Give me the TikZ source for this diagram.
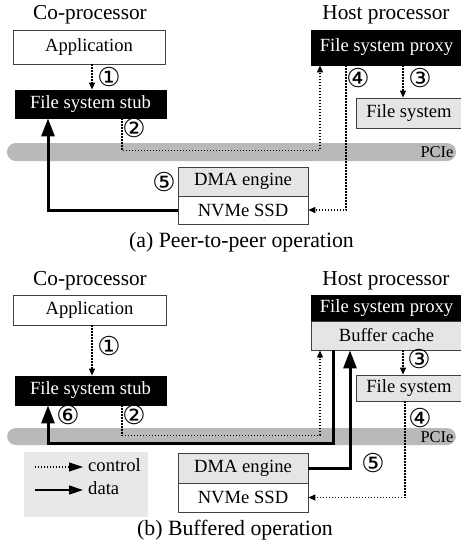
\documentclass[tikz,border=0pt]{standalone}
\usepackage{fontspec}
\setmainfont{Liberation Serif}
\newfontfamily\circfont{DejaVu Sans}
\usetikzlibrary{arrows.meta}

\tikzset{
  base/.style={inner sep=0pt, font=\fontsize{18.6}{20}\selectfont},
  wbox/.style={base, draw=black!75, line width=0.8pt, fill=white},
  gbox/.style={base, draw=black!75, line width=0.8pt, fill=gray!20},
  bbox/.style={base, draw=black, line width=0.8pt, fill=black, text=white},
  head/.style={font=\fontsize{21.3}{23}\selectfont},
  capt/.style={font=\fontsize{21.8}{24}\selectfont},
  pcie/.style={font=\fontsize{16.5}{18}\selectfont},
  num/.style={inner sep=0pt, font=\circfont\fontsize{26}{28}\selectfont},
  bus/.style={fill=gray!55, rounded corners=9pt},
  ctrl/.style={line width=1.1pt, dash pattern=on 1.1pt off 1.9pt, -{Triangle[length=7pt,width=6pt]}},
  data/.style={line width=3pt, -{Triangle[length=18pt,width=13pt]}},
}

\begin{document}
\begin{tikzpicture}[x=1pt, y=-1pt]
  \useasboundingbox (0,0) rectangle (461,550);

  % ---- (a) peer-to-peer ----
  \node[head] (coA) at (90,15) {Co-processor};
  \node[head] (hostA) at (386,15) {Host processor};

  \fill[bus] (7,143) rectangle (456,161);
  \node[pcie] (pcieA) at (437,152) {PCIe};

  \node[wbox, minimum width=152, minimum height=34] (appA) at (89,47) {Application};
  \node[bbox, minimum width=151, minimum height=28] (stubA) at (90.5,104) {File system stub};
  \node[bbox, minimum width=151, minimum height=35] (proxyA) at (386.5,47.5) {File system proxy};
  \node[gbox, minimum width=106, minimum height=30] (fsA) at (409,113) {File system};
  \node[gbox, minimum width=130, minimum height=29] (dmaA) at (243,181.5) {DMA engine};
  \node[wbox, minimum width=130, minimum height=28] (nvmeA) at (243,210) {NVMe SSD};

  % control and data paths
  \draw[ctrl] ([xshift=3]appA.south) -- ([xshift=3]appA.south |- stubA.north);
  \draw[ctrl] ([xshift=31.5]stubA.south) -- ++(0,32) -| ([xshift=-66.5]proxyA.south);
  \draw[ctrl] ([xshift=16.5]proxyA.south) -- ([xshift=16.5]proxyA.south |- fsA.north);
  \draw[ctrl] ([xshift=-40.5]proxyA.south) |- (nvmeA.east);
  \draw[data] (nvmeA.west) -| ([xshift=-42.5]stubA.south);

  \node[num] (n1A) at (109,77) {①};
  \node[num] (n2A) at (134,128) {②};
  \node[num] (n3A) at (420,78) {③};
  \node[num] (n4A) at (358,78) {④};
  \node[num] (n5A) at (164,182) {⑤};

  \node[capt] (captA) at (241.5,242) {(a) Peer-to-peer operation};

  % ---- (b) buffered ----
  \node[head] (coB) at (90,281) {Co-processor};
  \node[head] (hostB) at (386,281) {Host processor};

  \fill[bus] (7,428) rectangle (456,445);
  \node[pcie] (pcieB) at (437,437) {PCIe};

  \node[wbox, minimum width=153, minimum height=30] (appB) at (89.5,310) {Application};
  \node[bbox, minimum width=151, minimum height=29] (stubB) at (90.5,390.5) {File system stub};
  \node[bbox, minimum width=151, minimum height=26] (proxyB) at (386.5,308) {File system proxy};
  \node[gbox, minimum width=151, minimum height=29] (bufB) at (386.5,335.5) {Buffer cache};
  \node[gbox, minimum width=106, minimum height=26] (fsB) at (409,388) {File system};
  \node[gbox, minimum width=130, minimum height=30] (dmaB) at (243,468) {DMA engine};
  \node[wbox, minimum width=130, minimum height=29] (nvmeB) at (243,497.5) {NVMe SSD};

  % control and data paths
  \draw[ctrl] ([xshift=2.5]appB.south) -- ([xshift=2.5]appB.south |- stubB.north);
  \draw[ctrl] ([xshift=31.5]stubB.south) -- ++(0,30) -| ([xshift=-66.5]bufB.south);
  \draw[ctrl] ([xshift=16.5]bufB.south) -- ([xshift=16.5]bufB.south |- fsB.north);
  \draw[ctrl] ([xshift=-4]fsB.south) |- (nvmeB.east);
  \draw[data] ([xshift=-53.5]bufB.south) -- ++(0,93) -| ([xshift=-42.5]stubB.south);
  \draw[data] (dmaB.east) -| ([xshift=-36.5]bufB.south);

  \node[num] (n1B) at (109,346) {①};
  \node[num] (n2B) at (134,415) {②};
  \node[num] (n3B) at (419,359) {③};
  \node[num] (n4B) at (420,418) {④};
  \node[num] (n5B) at (373,463) {⑤};
  \node[num] (n6B) at (68,415) {⑥};

  % legend
  \fill[gray!18] (24,452) rectangle (148,517);
  \node[base, anchor=west] (lctrl) at (88,465) {control};
  \node[base, anchor=west] (ldata) at (88,488) {data};
  \coordinate (lc) at (35,467);
  \coordinate (ld) at (35,490);
  \draw[line width=1.1pt, dash pattern=on 1.1pt off 1.9pt, -{Triangle[length=14pt,width=9pt]}] (lc) -- ([xshift=-5]lctrl.west |- lc);
  \draw[line width=1.4pt, -{Triangle[length=14pt,width=9pt]}] (ld) -- ([xshift=-5]ldata.west |- ld);

  \node[capt] (captB) at (235,530) {(b) Buffered operation};
\end{tikzpicture}
\end{document}
